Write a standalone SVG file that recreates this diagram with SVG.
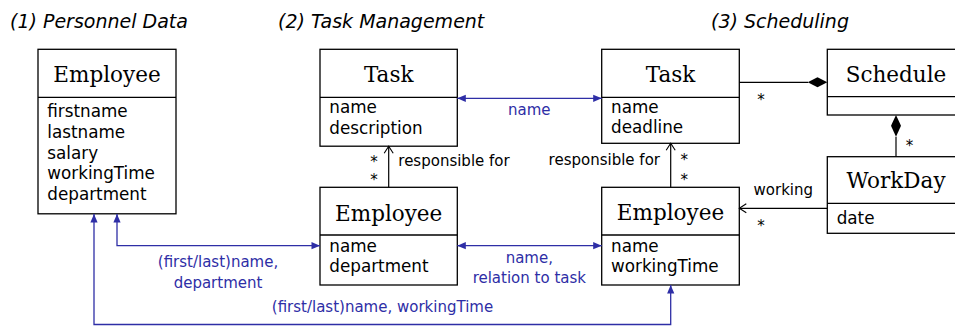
<svg xmlns="http://www.w3.org/2000/svg" width="955" height="326" viewBox="0 0 955 326">
<style>
.box{fill:#fff;stroke:#000;stroke-width:1.3}
.sep{stroke:#000;stroke-width:1.3}
.hd{font-family:"DejaVu Serif","Liberation Serif",serif;font-size:21.5px;text-anchor:middle;fill:#000}
.at{font-family:"DejaVu Sans","Liberation Sans",sans-serif;font-size:16.8px;fill:#000}
.ti{font-family:"DejaVu Sans","Liberation Sans",sans-serif;font-size:19px;font-style:italic;fill:#000}
.lb{font-family:"DejaVu Sans","Liberation Sans",sans-serif;font-size:15px;fill:#000}
.bl{font-family:"DejaVu Sans","Liberation Sans",sans-serif;font-size:15px;fill:#2e2ea6;text-anchor:middle}
.st{font-family:"DejaVu Sans","Liberation Sans",sans-serif;font-size:15px;fill:#000;text-anchor:middle}
.cb{fill:none;stroke:#2e2ea6;stroke-width:1.3}
.ck{fill:none;stroke:#000;stroke-width:1.2}
</style>
<defs>
<marker id="ba" markerUnits="userSpaceOnUse" markerWidth="10" markerHeight="10" viewBox="-9 -5 10 10" refX="0" refY="0" orient="auto-start-reverse">
<path d="M0,0 L-8.5,-3.6 L-8.5,3.6 z" fill="#2e2ea6"/>
</marker>
<marker id="oa" markerUnits="userSpaceOnUse" markerWidth="12" markerHeight="12" viewBox="-10 -6 12 12" refX="0" refY="0" orient="auto">
<path d="M-7,-4.5 L0,0 L-7,4.5" fill="none" stroke="#000" stroke-width="1.1"/>
</marker>
</defs>

<text class="ti" x="10" y="28">(1) Personnel Data</text>
<text class="ti" x="278" y="28">(2) Task Management</text>
<text class="ti" x="711" y="28">(3) Scheduling</text>

<g id="employee1">
<rect class="box" x="38" y="49.3" width="138" height="164.5"/>
<line class="sep" x1="38" y1="97.3" x2="176" y2="97.3"/>
<text class="hd" x="107" y="81.7">Employee</text>
<text class="at" x="47.3" y="117.3">firstname</text>
<text class="at" x="47.3" y="138.3">lastname</text>
<text class="at" x="47.3" y="158.8">salary</text>
<text class="at" x="47.3" y="179.3">workingTime</text>
<text class="at" x="47.3" y="200">department</text>
</g>

<g id="task2">
<rect class="box" x="320" y="49.3" width="137.3" height="96.9"/>
<line class="sep" x1="320" y1="97.3" x2="457.3" y2="97.3"/>
<text class="hd" x="388.7" y="81.7">Task</text>
<text class="at" x="329.3" y="113.3">name</text>
<text class="at" x="329.3" y="134">description</text>
</g>

<g id="employee2">
<rect class="box" x="320" y="187.3" width="137.3" height="97.7"/>
<line class="sep" x1="320" y1="235" x2="457.3" y2="235"/>
<text class="hd" x="388.7" y="220.5">Employee</text>
<text class="at" x="329.3" y="251.7">name</text>
<text class="at" x="329.3" y="272.3">department</text>
</g>

<g id="task3">
<rect class="box" x="601.7" y="49.3" width="137.6" height="94"/>
<line class="sep" x1="601.7" y1="97.3" x2="739.3" y2="97.3"/>
<text class="hd" x="670.5" y="81.7">Task</text>
<text class="at" x="611" y="113.3">name</text>
<text class="at" x="611" y="133.3">deadline</text>
</g>

<g id="employee3">
<rect class="box" x="601.7" y="187.3" width="137.6" height="97.7"/>
<line class="sep" x1="601.7" y1="235" x2="739.3" y2="235"/>
<text class="hd" x="670.5" y="220.3">Employee</text>
<text class="at" x="611" y="251.7">name</text>
<text class="at" x="611" y="271.7">workingTime</text>
</g>

<g id="schedule">
<rect class="box" x="827.3" y="49.3" width="140" height="65.7"/>
<line class="sep" x1="827.3" y1="96.7" x2="967.3" y2="96.7"/>
<text class="hd" x="896" y="81.7">Schedule</text>
</g>

<g id="workday">
<rect class="box" x="827.3" y="156.7" width="140" height="76.6"/>
<line class="sep" x1="827.3" y1="203.3" x2="967.3" y2="203.3"/>
<text class="hd" x="896" y="188.3">WorkDay</text>
<text class="at" x="836.7" y="224">date</text>
</g>

<g id="connectors">
<line class="cb" x1="457.3" y1="98.3" x2="601.7" y2="98.3" marker-start="url(#ba)" marker-end="url(#ba)"/>
<text class="bl" x="529.3" y="115">name</text>
<line class="cb" x1="457.3" y1="245.7" x2="601.7" y2="245.7" marker-start="url(#ba)" marker-end="url(#ba)"/>
<text class="bl" x="529.3" y="263.3">name,</text>
<text class="bl" x="529.3" y="282.7">relation to task</text>
<path class="cb" d="M117,214 V245.7 H320" marker-start="url(#ba)" marker-end="url(#ba)"/>
<text class="bl" x="218" y="267">(first/last)name,</text>
<text class="bl" x="218" y="288">department</text>
<path class="cb" d="M94,214 V324.5 H670.7 V285" marker-start="url(#ba)" marker-end="url(#ba)"/>
<text class="bl" x="382.5" y="311.5">(first/last)name, workingTime</text>

<line class="ck" x1="388.7" y1="187.3" x2="388.7" y2="146.2" marker-end="url(#oa)"/>
<text class="st" x="374" y="166.5">*</text>
<text class="st" x="374" y="185">*</text>
<text class="lb" x="398.3" y="166">responsible for</text>

<line class="ck" x1="670.7" y1="187.3" x2="670.7" y2="143.3" marker-end="url(#oa)"/>
<text class="st" x="684.3" y="165">*</text>
<text class="st" x="684.3" y="185">*</text>
<text class="lb" x="660" y="165" text-anchor="end">responsible for</text>

<line class="ck" x1="739.3" y1="82.3" x2="808" y2="82.3"/>
<polygon points="807.7,82.3 817.5,77.3 827.3,82.3 817.5,87.3" fill="#000"/>
<text class="st" x="761" y="105">*</text>

<line class="ck" x1="896" y1="136.7" x2="896" y2="156.7"/>
<polygon points="896,115 901,125.8 896,136.7 891,125.8" fill="#000"/>
<text class="st" x="909.5" y="151">*</text>

<line class="ck" x1="827.3" y1="208.3" x2="739.3" y2="208.3" marker-end="url(#oa)"/>
<text class="lb" x="783.3" y="195" text-anchor="middle">working</text>
<text class="st" x="761" y="231">*</text>
</g>
</svg>
